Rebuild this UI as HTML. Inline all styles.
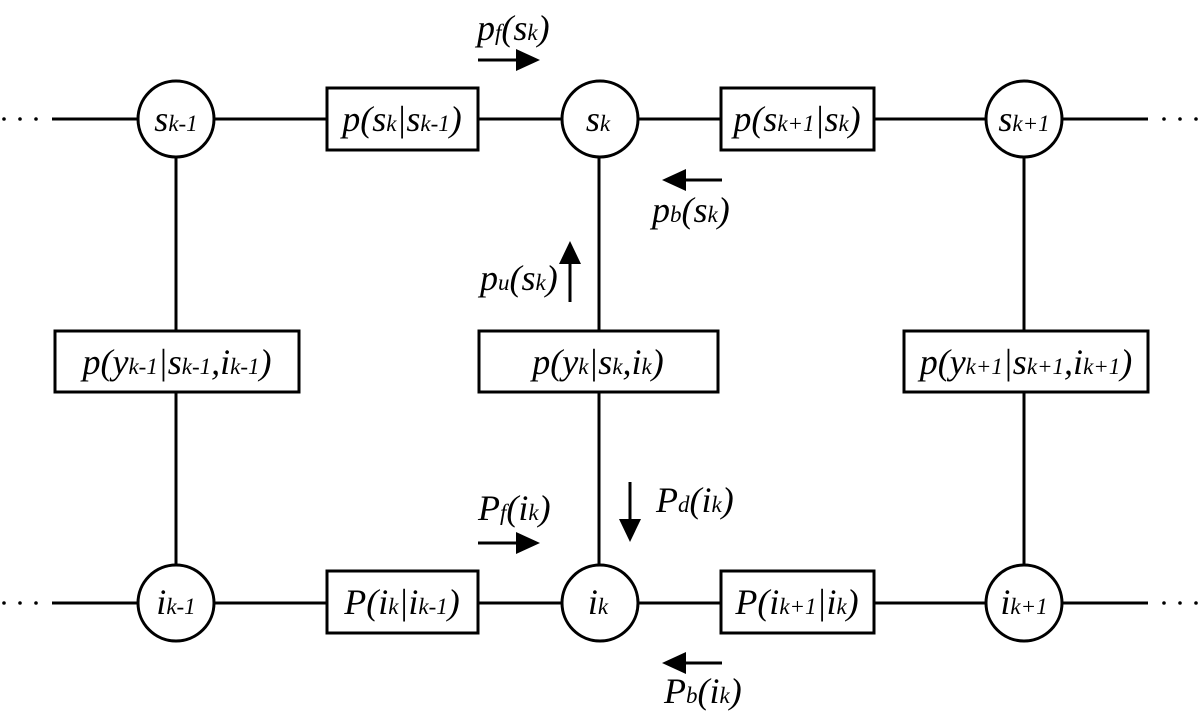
<!DOCTYPE html>
<html><head><meta charset="utf-8"><style>
html,body{margin:0;padding:0;background:#fff}
svg{display:block}
</style></head><body>
<svg width="1200" height="727" viewBox="0 0 1200 727" xmlns="http://www.w3.org/2000/svg">
<g stroke="#000" stroke-width="3" fill="none">
<line x1="52" y1="119" x2="1148" y2="119"/>
<line x1="52" y1="603" x2="1148" y2="603"/>
<line x1="176" y1="119" x2="176" y2="603"/>
<line x1="599" y1="119" x2="599" y2="603"/>
<line x1="1024" y1="119" x2="1024" y2="603"/>
</g>
<g stroke="#000" stroke-width="3" fill="#fff">
<circle cx="176" cy="119" r="38"/>
<circle cx="600" cy="119" r="38"/>
<circle cx="1024" cy="119" r="38"/>
<circle cx="176" cy="603" r="38"/>
<circle cx="600" cy="603" r="38"/>
<circle cx="1024" cy="603" r="38"/>
<rect x="327" y="88" width="151" height="62"/>
<rect x="721" y="88" width="153" height="62"/>
<rect x="327" y="571" width="151" height="62"/>
<rect x="721" y="571" width="153" height="62"/>
<rect x="55" y="331" width="244" height="61"/>
<rect x="479" y="331" width="239" height="61"/>
<rect x="904" y="331" width="244" height="61"/>
</g>
<g fill="#000">
<circle cx="4" cy="119" r="1.8"/><circle cx="20" cy="119" r="1.8"/><circle cx="36" cy="119" r="1.8"/>
<circle cx="1164" cy="119" r="1.8"/><circle cx="1180" cy="119" r="1.8"/><circle cx="1196" cy="119" r="1.8"/>
<circle cx="4" cy="603" r="1.8"/><circle cx="20" cy="603" r="1.8"/><circle cx="36" cy="603" r="1.8"/>
<circle cx="1164" cy="603" r="1.8"/><circle cx="1180" cy="603" r="1.8"/><circle cx="1196" cy="603" r="1.8"/>
</g>
<g fill="#000">
<line x1="478" y1="60" x2="518" y2="60" stroke="#000" stroke-width="3"/><path d="M516,49L540,60L516,71z"/>
<line x1="722" y1="180" x2="684" y2="180" stroke="#000" stroke-width="3"/><path d="M686,169L662,180L686,191z"/>
<line x1="570" y1="302" x2="570" y2="262" stroke="#000" stroke-width="3"/><path d="M559,264L570,241L581,264z"/>
<line x1="630" y1="482" x2="630" y2="520" stroke="#000" stroke-width="3"/><path d="M619,519L630,542L641,519z"/>
<line x1="478" y1="543" x2="518" y2="543" stroke="#000" stroke-width="3"/><path d="M516,532L540,543L516,554z"/>
<line x1="722" y1="663" x2="684" y2="663" stroke="#000" stroke-width="3"/><path d="M686,652L662,663L686,674z"/>
</g>
<g font-family="Liberation Serif, DejaVu Serif, serif" font-style="italic" font-size="36" fill="#000">
<text x="176" y="131" text-anchor="middle">s<tspan font-size="23">k-1</tspan></text>
<text x="598" y="131" text-anchor="middle">s<tspan font-size="23">k</tspan></text>
<text x="1024" y="131" text-anchor="middle">s<tspan font-size="23">k+1</tspan></text>
<text x="176" y="614" text-anchor="middle">i<tspan font-size="23">k-1</tspan></text>
<text x="598" y="614" text-anchor="middle">i<tspan font-size="23">k</tspan></text>
<text x="1024" y="614" text-anchor="middle">i<tspan font-size="23">k+1</tspan></text>
<text x="402" y="131" text-anchor="middle">p(s<tspan font-size="23">k</tspan>|s<tspan font-size="23">k-1</tspan>)</text>
<text x="797" y="131" text-anchor="middle">p(s<tspan font-size="23">k+1</tspan>|s<tspan font-size="23">k</tspan>)</text>
<text x="402" y="614" text-anchor="middle">P(i<tspan font-size="23">k</tspan>|i<tspan font-size="23">k-1</tspan>)</text>
<text x="797" y="614" text-anchor="middle">P(i<tspan font-size="23">k+1</tspan>|i<tspan font-size="23">k</tspan>)</text>
<text x="177" y="374" text-anchor="middle">p(y<tspan font-size="23">k-1</tspan>|s<tspan font-size="23">k-1</tspan>,i<tspan font-size="23">k-1</tspan>)</text>
<text x="598" y="374" text-anchor="middle">p(y<tspan font-size="23">k</tspan>|s<tspan font-size="23">k</tspan>,i<tspan font-size="23">k</tspan>)</text>
<text x="1026" y="374" text-anchor="middle">p(y<tspan font-size="23">k+1</tspan>|s<tspan font-size="23">k+1</tspan>,i<tspan font-size="23">k+1</tspan>)</text>
<text x="477" y="40">p<tspan font-size="23">f</tspan>(s<tspan font-size="23">k</tspan>)</text>
<text x="652" y="222">p<tspan font-size="23">b</tspan>(s<tspan font-size="23">k</tspan>)</text>
<text x="480" y="290">p<tspan font-size="23">u</tspan>(s<tspan font-size="23">k</tspan>)</text>
<text x="656" y="512">P<tspan font-size="23">d</tspan>(i<tspan font-size="23">k</tspan>)</text>
<text x="478" y="520">P<tspan font-size="23">f</tspan>(i<tspan font-size="23">k</tspan>)</text>
<text x="664" y="703">P<tspan font-size="23">b</tspan>(i<tspan font-size="23">k</tspan>)</text>
</g>
</svg>
</body></html>
